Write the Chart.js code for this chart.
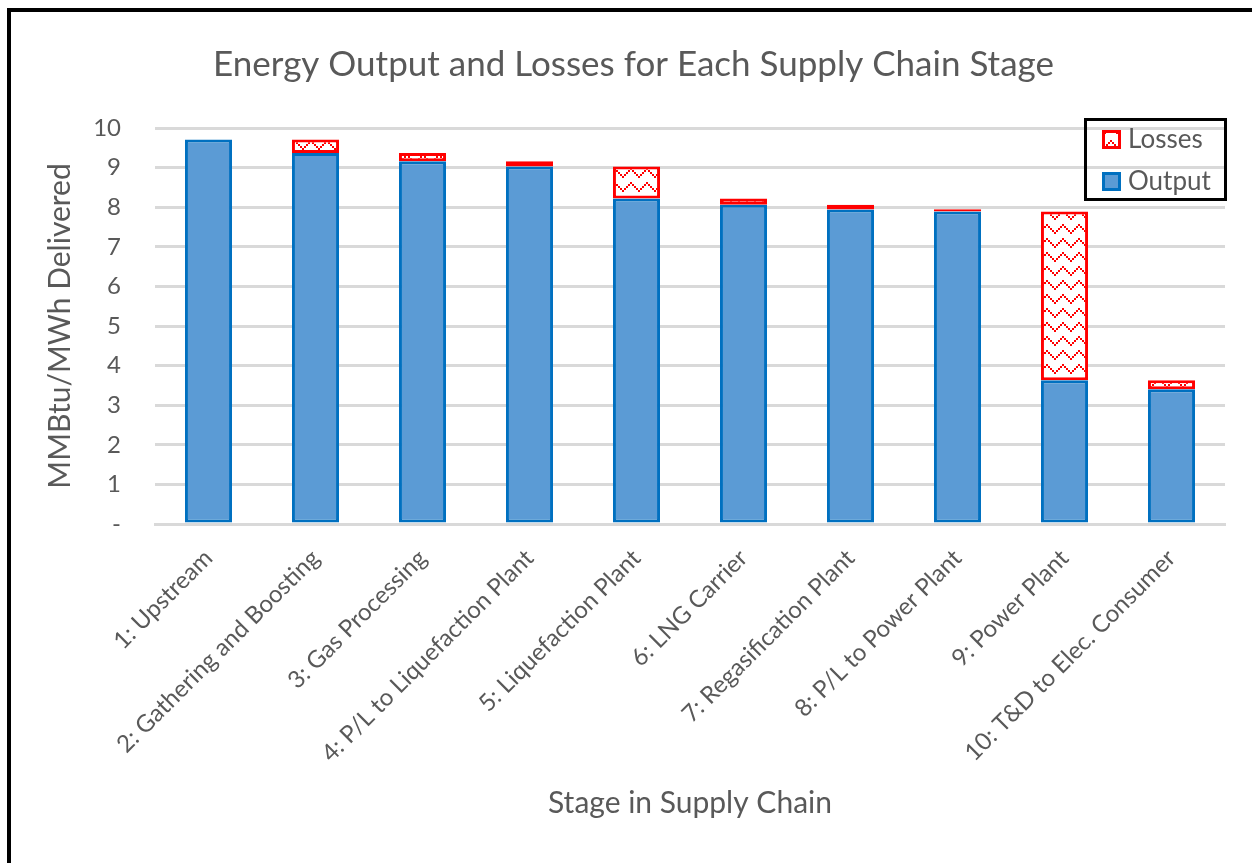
<!DOCTYPE html>
<html>
<head>
<meta charset="utf-8">
<title>Energy Output and Losses</title>
<script src="https://cdn.jsdelivr.net/npm/chart.js@4.4.0/dist/chart.umd.min.js"></script>
<style>
    html, body { margin: 0; padding: 0; background: #fff; overflow: hidden; }
    #frame {
        position: absolute; left: 7px; top: 8px; width: 1300px; height: 852px;
        border-left: 4px solid #000; border-top: 4px solid #000; border-bottom: 1px solid #d9d9d9;
    }
    #wrap { position: absolute; left: 0; top: 0; width: 1252px; height: 863px; }
</style>
</head>
<body>
<div id="frame"></div>
<div id="wrap"><canvas id="chart" width="1252" height="863"></canvas></div>
<script>
// Chart data
const stages = [
    '1: Upstream',
    '2: Gathering and Boosting',
    '3: Gas Processing',
    '4: P/L to Liquefaction Plant',
    '5: Liquefaction Plant',
    '6: LNG Carrier',
    '7: Regasification Plant',
    '8: P/L to Power Plant',
    '9: Power Plant',
    '10: T&D to Elec. Consumer'
];
const outputValues = [9.71, 9.37, 9.16, 9.03, 8.22, 8.06, 7.94, 7.89, 3.63, 3.40];
const lossValues   = [0.00, 0.34, 0.21, 0.13, 0.81, 0.16, 0.12, 0.06, 4.26, 0.23];
const yTickLabels = ['-', '1', '2', '3', '4', '5', '6', '7', '8', '9', '10'];

const FONT = 'Lato, Calibri, "Liberation Sans", sans-serif';
const TEXT_GREY = '#595959';

// Red zigzag fill like the Excel pattern
function makeZigzag() {
    const cell = 2;
    const wave = [3, 2, 1, 0, 1, 2, 3, 4];
    const c = document.createElement('canvas');
    c.width = 8 * cell;
    c.height = 7 * cell;
    const g = c.getContext('2d');
    g.fillStyle = '#fff';
    g.fillRect(0, 0, c.width, c.height);
    g.fillStyle = '#ff0000';
    wave.forEach((y, x) => g.fillRect(x * cell, y * cell, cell, cell));
    return document.getElementById('chart').getContext('2d').createPattern(c, 'repeat');
}
const zigzag = makeZigzag();

// Legend drawn as a framed box inside the plot, like the original
const boxLegend = {
    id: 'boxLegend',
    afterDraw(chart) {
        const ctx = chart.ctx;
        ctx.save();
        ctx.lineWidth = 3;
        ctx.strokeStyle = '#000';
        ctx.strokeRect(1085.5, 119.5, 140, 80);

        // Losses swatch
        ctx.fillStyle = zigzag;
        ctx.fillRect(1103, 131, 17, 17);
        ctx.strokeStyle = '#ff0000';
        ctx.lineWidth = 3;
        ctx.strokeRect(1103.5, 131.5, 16, 16);

        // Output swatch
        ctx.fillStyle = '#5b9bd5';
        ctx.fillRect(1103, 173, 17, 17);
        ctx.strokeStyle = '#0070c0';
        ctx.strokeRect(1103.5, 173.5, 16, 16);

        ctx.fillStyle = TEXT_GREY;
        ctx.font = '26px ' + FONT;
        ctx.textBaseline = 'middle';
        ctx.textAlign = 'left';
        ctx.fillText('Losses', 1128, 140);
        ctx.fillText('Output', 1128, 182);
        ctx.restore();
    }
};

new Chart(document.getElementById('chart'), {
    type: 'bar',
    data: {
        labels: stages,
        datasets: [
            {
                label: 'Output',
                data: outputValues,
                backgroundColor: '#5b9bd5',
                borderColor: '#0070c0',
                borderWidth: 3,
                borderSkipped: false,
                barPercentage: 0.44,
                categoryPercentage: 1.0
            },
            {
                label: 'Losses',
                data: lossValues,
                backgroundColor: zigzag,
                borderColor: '#ff0000',
                borderWidth: 3,
                borderSkipped: false,
                barPercentage: 0.44,
                categoryPercentage: 1.0
            }
        ]
    },
    options: {
        responsive: false,
        animation: false,
        layout: { padding: { top: 10, right: 27, bottom: 0, left: 42 } },
        plugins: {
            legend: { display: false },
            tooltip: { enabled: false },
            title: {
                display: true,
                text: 'Energy Output and Losses for Each Supply Chain Stage',
                color: TEXT_GREY,
                font: { family: FONT, size: 35, weight: 'normal' },
                padding: { top: 34, bottom: 42 }
            }
        },
        scales: {
            x: {
                stacked: true,
                grid: { display: false, drawTicks: false },
                border: { display: true, color: '#d9d9d9', width: 3 },
                ticks: {
                    color: TEXT_GREY,
                    font: { family: FONT, size: 24 },
                    minRotation: 45,
                    maxRotation: 45,
                    autoSkip: false,
                    padding: 20
                },
                title: {
                    display: true,
                    text: 'Stage in Supply Chain',
                    color: TEXT_GREY,
                    font: { family: FONT, size: 30 },
                    padding: { top: 0, bottom: 42 }
                },
                afterFit: function(scale) { scale.height = 339; }
            },
            y: {
                stacked: true,
                min: 0,
                max: 10,
                grid: { color: '#d9d9d9', lineWidth: 3, drawTicks: false },
                border: { display: false },
                ticks: {
                    stepSize: 1,
                    color: TEXT_GREY,
                    font: { family: FONT, size: 24 },
                    padding: 34,
                    callback: function(value) { return yTickLabels[value]; }
                },
                title: {
                    display: true,
                    text: 'MMBtu/MWh Delivered',
                    color: TEXT_GREY,
                    font: { family: FONT, size: 30 },
                    padding: { top: 0, bottom: 0 }
                },
                afterFit: function(scale) { scale.width = 113; }
            }
        }
    },
    plugins: [boxLegend]
});
</script>
</body>
</html>
